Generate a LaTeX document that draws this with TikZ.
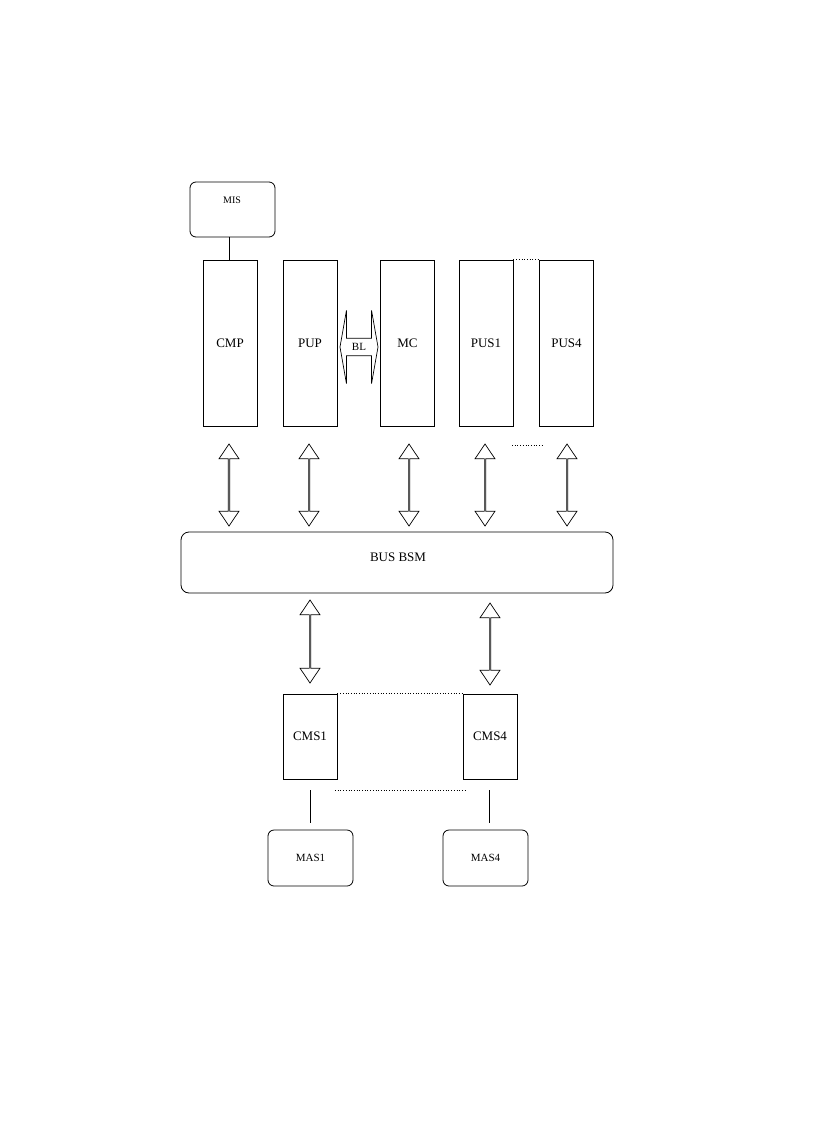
\documentclass[tikz,border=0pt]{standalone}
\usepackage{fontspec}
\setmainfont{Liberation Serif}
\usetikzlibrary{shapes.arrows}
\begin{document}
\begin{tikzpicture}[x=1pt,y=-1pt,
  box/.style={draw,line width=0.8pt,inner sep=0pt,font=\fontsize{13}{15}\selectfont},
  rbox/.style={box,rounded corners=6pt,font=\fontsize{10}{12}\selectfont},
  varrow/.style={draw,line width=0.7pt,double arrow,rotate=90,minimum height=82pt,minimum width=20pt,double arrow head extend=5pt,double arrow tip angle=68,inner sep=0pt},
  dots/.style={dotted,line width=0.7pt}]
\useasboundingbox (0,0) rectangle (816,1123);
\node[rbox,minimum width=85pt,minimum height=55pt,text depth=0pt] (mis) at (232.5,209.5) {};
\node[font=\fontsize{10}{12}\selectfont] (mist) at (232,200) {MIS};
\foreach \n/\t/\x in {cmp/CMP/230,pup/PUP/310,mc/MC/407.5,pusa/PUS1/486,pusb/PUS4/566.5}
  \node[box,minimum width=54pt,minimum height=166pt] (\n) at (\x,343) {\t};
\draw[line width=0.7pt] (mis.south -| 229,0) ++(0,0) coordinate (m1);
\draw[line width=0.7pt] (229,237) coordinate (ma) -- (cmp.north -| ma);
\draw[dots] (pusa.north east) -- (pusb.north west);
\coordinate (d1) at (512,445); \coordinate (d2) at (543,445);
\draw[dots] (d1) -- (d2);
\node[draw,line width=0.7pt,double arrow,minimum height=38pt,minimum width=73pt,double arrow head extend=12.5pt,double arrow tip angle=160,inner sep=0pt,font=\fontsize{11}{13}\selectfont] (bl) at (359,347) {BL};
\node[rbox,minimum width=432pt,minimum height=61pt,rounded corners=8pt,font=\fontsize{13}{15}\selectfont] (bus) at (397,562.5) {};
\node[font=\fontsize{13}{15}\selectfont] (bust) at (398,557) {BUS BSM};
\foreach \n/\x in {a1/229,a2/309,a3/409,a4/485,a5/567}
  \node[varrow] (\n) at (\x,485) {};
\node[varrow,minimum height=83pt] (b1) at (310,641.5) {};
\node[varrow,minimum height=82pt] (b2) at (490,644) {};
\node[box,minimum width=54pt,minimum height=85pt] (cms1) at (310,736.5) {CMS1};
\node[box,minimum width=54pt,minimum height=85pt] (cms4) at (490,736.5) {CMS4};
\draw[dots] (cms1.north east) -- (cms4.north west);
\coordinate (e1) at (335,790); \coordinate (e2) at (465,790);
\draw[dots] (e1) -- (e2);
\node[rbox,minimum width=85pt,minimum height=56pt,font=\fontsize{11}{13}\selectfont] (mas1) at (310.5,858) {MAS1};
\node[rbox,minimum width=85pt,minimum height=56pt,font=\fontsize{11}{13}\selectfont] (mas4) at (485.5,858) {MAS4};
\coordinate (c1) at (310,790); \coordinate (c4) at (489,790);
\draw[line width=0.7pt] (c1) -- (310,823);
\draw[line width=0.7pt] (c4) -- (489,823);
\end{tikzpicture}
\end{document}
